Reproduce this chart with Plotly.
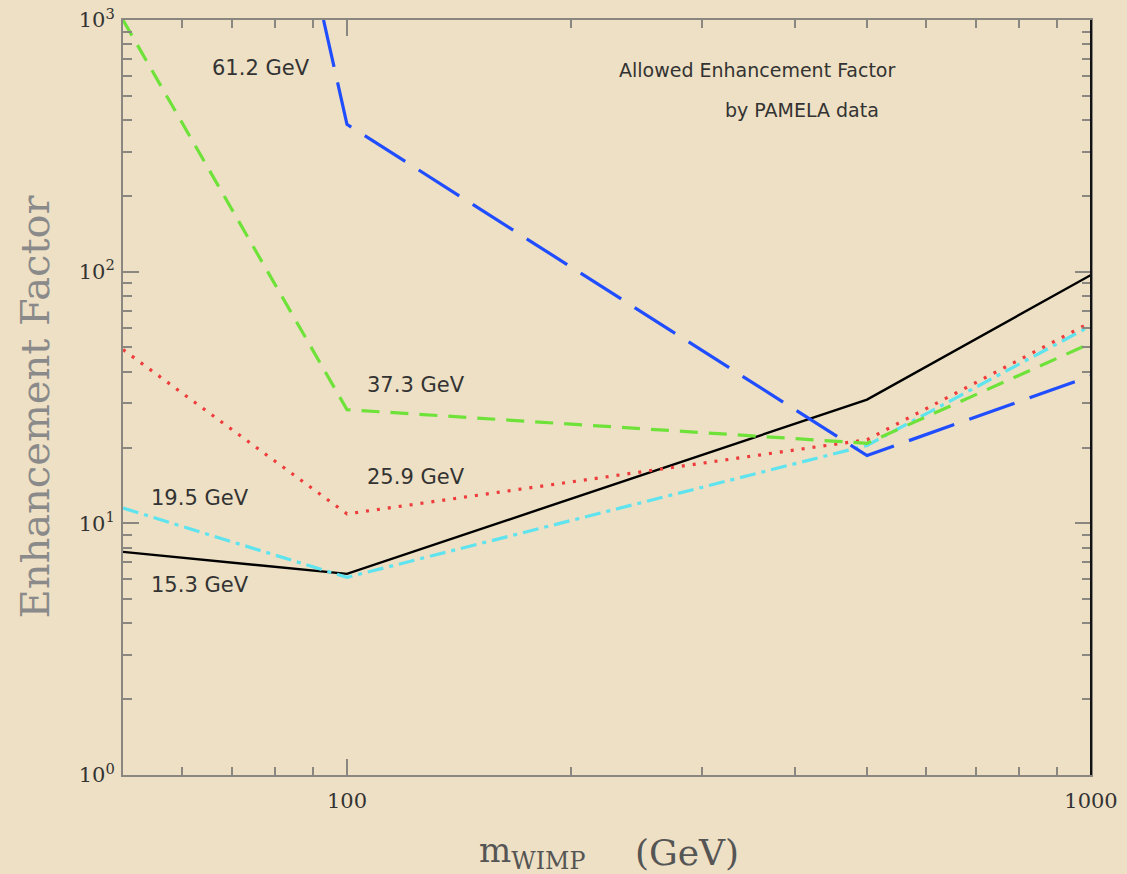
import plotly.graph_objects as go

# Data (m_WIMP in GeV, enhancement factor)
mass_black = [50, 100, 500, 1000]
ef_black = [7.7, 6.3, 31, 97]          # 15.3 GeV
mass_cyan = [50, 100, 500, 1000]
ef_cyan = [11.5, 6.1, 20.4, 61]        # 19.5 GeV
mass_red = [50, 100, 500, 1000]
ef_red = [49, 10.9, 21.5, 63]          # 25.9 GeV
mass_green = [50, 100, 500, 1000]
ef_green = [1000, 28.3, 20.8, 52]      # 37.3 GeV
mass_blue = [93, 100, 500, 1000]
ef_blue = [1000, 385, 18.6, 38.5]      # 61.2 GeV

x_ticks = [100, 1000]
x_ticktext = ["100", "1000"]
x_minor = [60, 70, 80, 90, 200, 300, 400, 500, 600, 700, 800, 900]
y_ticks = [1, 10, 100, 1000]
y_ticktext = ["10<sup>0</sup>", "10<sup>1</sup>", "10<sup>2</sup>", "10<sup>3</sup>"]
y_minor = [m * d for d in (1, 10, 100) for m in range(2, 10)]

fig = go.Figure()
fig.add_trace(go.Scatter(x=mass_black, y=ef_black, mode="lines",
                         line=dict(color="#000000", width=2.4)))
fig.add_trace(go.Scatter(x=mass_cyan, y=ef_cyan, mode="lines",
                         line=dict(color="#5ee3ef", width=3.2, dash="16px,6px,4px,6px")))
fig.add_trace(go.Scatter(x=mass_red, y=ef_red, mode="lines",
                         line=dict(color="#ee3b3b", width=3.2, dash="3px,8px")))
fig.add_trace(go.Scatter(x=mass_green, y=ef_green, mode="lines",
                         line=dict(color="#6fe23a", width=3.2, dash="18px,11px")))
fig.add_trace(go.Scatter(x=mass_blue, y=ef_blue, mode="lines",
                         line=dict(color="#1f4dff", width=3.2, dash="48px,16px")))

tickfont = dict(family="DejaVu Serif", size=21, color="#333333")
axis_common = dict(type="log", showgrid=False, zeroline=False, showline=True,
                   linecolor="#8a8780", linewidth=2, mirror="ticks",
                   ticks="inside", tickcolor="#8a8780", tickwidth=1.5,
                   tickfont=tickfont, automargin=False)

fig.update_xaxes(range=[1.69897, 3], tickvals=x_ticks, ticktext=x_ticktext,
                 ticklen=16, ticklabelstandoff=6,
                 minor=dict(tickvals=x_minor, ticks="inside", ticklen=8,
                            tickcolor="#8a8780", tickwidth=1.5),
                 **axis_common)
fig.update_yaxes(range=[0, 3], tickvals=y_ticks, ticktext=y_ticktext,
                 ticklen=16, ticklabelstandoff=2,
                 minor=dict(tickvals=y_minor, ticks="inside", ticklen=9,
                            tickcolor="#8a8780", tickwidth=1.5),
                 **axis_common)

# right axis line in black
fig.add_shape(type="line", xref="paper", yref="paper", x0=1, x1=1, y0=0, y1=1,
              line=dict(color="#111111", width=2))

lab_font = dict(family="DejaVu Sans", size=21, color="#333333")
labels = [
    ("61.2 GeV", 0.1426, 0.936),
    ("37.3 GeV", 0.303, 0.517),
    ("25.9 GeV", 0.303, 0.395),
    ("19.5 GeV", 0.0795, 0.367),
    ("15.3 GeV", 0.0795, 0.252),
]
for txt, xp, yp in labels:
    fig.add_annotation(text=txt, xref="paper", yref="paper", x=xp, y=yp,
                       showarrow=False, font=lab_font, xanchor="center", yanchor="middle")

title_font = dict(family="DejaVu Sans", size=19, color="#333333")
for txt, xp, yp in [("Allowed Enhancement Factor", 0.655, 0.934),
                    ("by PAMELA data", 0.701, 0.881)]:
    fig.add_annotation(text=txt, xref="paper", yref="paper", x=xp, y=yp,
                       showarrow=False, font=title_font, xanchor="center", yanchor="middle")

# axis titles
fig.add_annotation(text="Enhancement Factor", xref="paper", yref="paper",
                   x=-0.091, y=0.488, textangle=-90, showarrow=False,
                   font=dict(family="DejaVu Serif", size=40, color="#8a8a8a"),
                   xanchor="center", yanchor="middle")
fig.add_annotation(text="m<sub>WIMP</sub>", xref="paper", yref="paper",
                   x=(477 - 123) / 968, y=-0.102, showarrow=False,
                   font=dict(family="DejaVu Serif", size=34, color="#555555"),
                   xanchor="left", yanchor="middle")
fig.add_annotation(text="(GeV)", xref="paper", yref="paper",
                   x=(633 - 123) / 968, y=-0.102, showarrow=False,
                   font=dict(family="DejaVu Serif", size=36, color="#555555"),
                   xanchor="left", yanchor="middle")

fig.update_layout(width=1127, height=874, showlegend=False,
                  paper_bgcolor="#ede0c4", plot_bgcolor="#ede0c4",
                  margin=dict(l=123, r=36, t=20, b=99))

fig.write_html("out.html")
